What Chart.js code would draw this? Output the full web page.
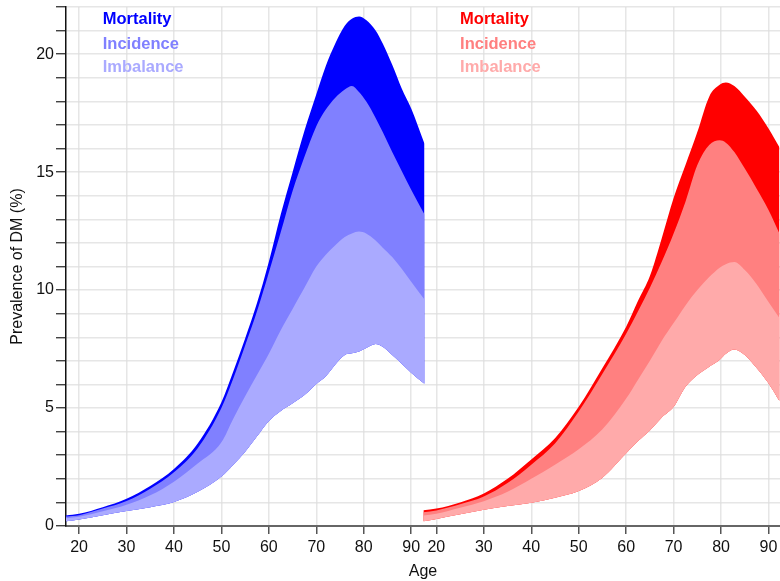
<!DOCTYPE html>
<html>
<head>
<meta charset="utf-8">
<script src="https://cdn.jsdelivr.net/npm/chart.js@4.4.1/dist/chart.umd.min.js"></script>
<style>
  html, body { margin: 0; padding: 0; background: #fff; }
  #wrap { width: 780px; height: 581px; }
</style>
</head>
<body>
<div id="wrap"><canvas id="chart"></canvas></div>
<script>
// left panel (blue)
const ageLeft = [17.25, 20, 25, 30, 35, 40, 45, 50, 52.5, 55, 57.5, 60, 62.5, 65, 67.5, 70, 72, 74, 76, 77.5, 79, 80.5, 82.5, 84, 86, 88, 90, 92.8];
const blueBase      = [0.2, 0.28, 0.46, 0.64, 0.8, 1.02, 1.45, 2.1, 2.6, 3.15, 3.8, 4.45, 4.88, 5.2, 5.55, 6.02, 6.35, 6.85, 7.25, 7.32, 7.4, 7.55, 7.72, 7.6, 7.25, 6.88, 6.5, 6.03];
const blueImbalance = [0.33, 0.39, 0.62, 0.9, 1.3, 1.88, 2.65, 3.55, 4.55, 5.5, 6.4, 7.3, 8.3, 9.2, 10.1, 11.0, 11.5, 11.9, 12.25, 12.4, 12.48, 12.4, 12.1, 11.8, 11.4, 10.9, 10.35, 9.6];
const blueIncidence = [0.4, 0.46, 0.74, 1.06, 1.58, 2.28, 3.3, 5.0, 6.25, 7.65, 9.1, 10.75, 12.45, 14.2, 15.65, 16.95, 17.65, 18.15, 18.5, 18.65, 18.4, 18.0, 17.3, 16.7, 15.85, 15.05, 14.25, 13.2];
const blueMortality = [0.45, 0.52, 0.8, 1.16, 1.7, 2.42, 3.5, 5.25, 6.55, 7.95, 9.45, 11.2, 13.2, 15.0, 16.75, 18.3, 19.5, 20.45, 21.2, 21.5, 21.6, 21.45, 21.0, 20.45, 19.55, 18.55, 17.7, 16.2];

// right panel (red)
const ageRight = [17.27, 20, 25, 30, 35, 40, 45, 50, 55, 60, 62.5, 65, 67.5, 70, 72.5, 75, 77.5, 79.7, 81, 82.8, 85, 87.5, 90, 92.3];
const redBase      = [0.2, 0.3, 0.5, 0.69, 0.85, 0.99, 1.2, 1.48, 2.05, 3.08, 3.6, 4.05, 4.6, 5.05, 5.9, 6.4, 6.75, 7.05, 7.3, 7.48, 7.25, 6.7, 6.05, 5.3];
const redImbalance = [0.45, 0.52, 0.77, 1.05, 1.45, 2.0, 2.6, 3.25, 4.1, 5.4, 6.2, 7.0, 7.85, 8.6, 9.35, 10.0, 10.55, 10.95, 11.1, 11.19, 10.85, 10.25, 9.5, 8.82];
const redIncidence = [0.58, 0.66, 0.92, 1.25, 1.82, 2.6, 3.5, 4.85, 6.45, 8.15, 9.1, 10.1, 11.2, 12.4, 13.75, 15.3, 16.15, 16.35, 16.25, 15.85, 15.15, 14.3, 13.4, 12.4];
const redMortality = [0.67, 0.74, 1.0, 1.38, 2.0, 2.82, 3.72, 5.05, 6.7, 8.45, 9.55, 10.6, 12.2, 13.9, 15.3, 16.7, 18.2, 18.7, 18.8, 18.65, 18.2, 17.6, 16.85, 16.05];

const tickAges = [20, 30, 40, 50, 60, 70, 80, 90];
const seriesNames = ['Mortality', 'Incidence', 'Imbalance'];
const blueColors = ['#0000ff', '#8080ff', '#aaaaff'];
const redColors = ['#ff0000', '#ff8080', '#ffaaaa'];

// both panels live on one x axis, the right one shifted by this many years
const panelShift = 75.3;

const FONT = '"Liberation Sans", Arial, sans-serif';
const gridColor = 'rgba(222,222,222,0.75)';

function curve(ages, vals, shift, color, fillTo) {
  return {
    data: ages.map((a, i) => ({ x: a + shift, y: vals[i] })),
    backgroundColor: color,
    borderWidth: 0,
    pointRadius: 0,
    fill: fillTo,
    cubicInterpolationMode: 'monotone'
  };
}

const datasets = [
  curve(ageLeft, blueBase, 0, 'rgba(0,0,0,0)', false),
  curve(ageLeft, blueImbalance, 0, blueColors[2], '-1'),
  curve(ageLeft, blueIncidence, 0, blueColors[1], '-2'),
  curve(ageLeft, blueMortality, 0, blueColors[0], '-3'),
  curve(ageRight, redBase, panelShift, 'rgba(0,0,0,0)', false),
  curve(ageRight, redImbalance, panelShift, redColors[2], '-1'),
  curve(ageRight, redIncidence, panelShift, redColors[1], '-2'),
  curve(ageRight, redMortality, panelShift, redColors[0], '-3')
];

const legendText = {
  id: 'legendText',
  afterDraw(chart) {
    const ctx = chart.ctx;
    const x = chart.scales.x;
    const top = chart.chartArea.top;
    const rows = [17, 41.5, 65];
    ctx.save();
    ctx.font = 'bold 16.5px ' + FONT;
    ctx.textAlign = 'left';
    ctx.textBaseline = 'alphabetic';
    seriesNames.forEach((name, i) => {
      ctx.fillStyle = blueColors[i];
      ctx.fillText(name, x.getPixelForValue(25), top + rows[i]);
      ctx.fillStyle = redColors[i];
      ctx.fillText(name, x.getPixelForValue(25 + panelShift), top + rows[i]);
    });
    ctx.restore();
  }
};

new Chart(document.getElementById('chart'), {
  type: 'line',
  data: { datasets: datasets },
  options: {
    responsive: true,
    maintainAspectRatio: false,
    animation: false,
    layout: { padding: { top: 7, right: 0, left: 0, bottom: 0 } },
    plugins: {
      legend: { display: false },
      tooltip: { enabled: false }
    },
    scales: {
      x: {
        type: 'linear',
        min: 17.25,
        max: 167.72,
        z: 1,
        afterBuildTicks: (s) => {
          s.ticks = tickAges.map(v => ({ value: v }))
            .concat(tickAges.map(v => ({ value: v + panelShift })));
        },
        afterFit: (s) => { s.height = 55; s.paddingRight = 0; },
        ticks: {
          autoSkip: false,
          maxRotation: 0,
          padding: 4,
          color: '#111',
          font: { family: FONT, size: 16 },
          callback: (v) => Math.round(v > 93 ? v - panelShift : v)
        },
        grid: { color: gridColor, lineWidth: 1.5, tickLength: 8, tickColor: '#555', tickWidth: 1.5 },
        border: { display: true, color: '#666', width: 2 },
        title: {
          display: true,
          text: 'Age',
          color: '#111',
          font: { family: FONT, size: 16 },
          padding: { top: 0, bottom: 0 }
        }
      },
      y: {
        min: 0,
        max: 22,
        z: 1,
        afterFit: (s) => { s.width = 66; s.paddingTop = 0; },
        ticks: {
          stepSize: 1,
          autoSkip: false,
          padding: 2,
          color: '#111',
          font: { family: FONT, size: 16 },
          callback: (v) => (v % 5 === 0 ? v : '')
        },
        grid: { color: gridColor, lineWidth: 1.5, tickLength: 10, tickColor: '#222', tickWidth: 1.2 },
        border: { display: true, color: '#111', width: 1.5 },
        title: {
          display: true,
          text: 'Prevalence of DM (%)',
          color: '#111',
          font: { family: FONT, size: 16 },
          padding: { top: 8, bottom: 0 }
        }
      }
    }
  },
  plugins: [legendText]
});
</script>
</body>
</html>
